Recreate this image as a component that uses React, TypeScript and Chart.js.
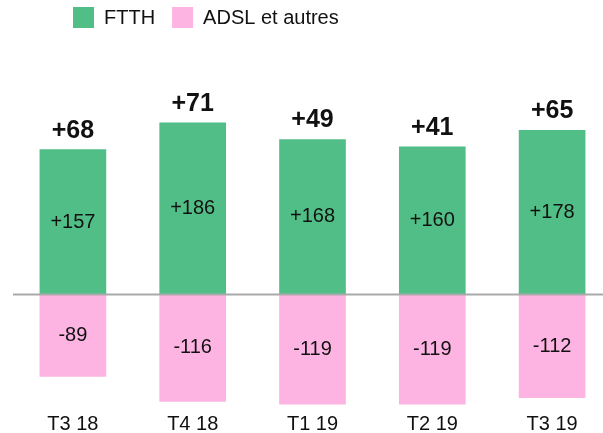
import React, { useEffect, useRef } from "react";
import { Chart, registerables } from "chart.js";
Chart.register(...registerables);

const categories = ["T3 18", "T4 18", "T1 19", "T2 19", "T3 19"];
const ftth = [157, 186, 168, 160, 178];
const adsl = [-89, -116, -119, -119, -112];
const totals = [68, 71, 49, 41, 65];
const seriesNames = ["FTTH", "ADSL et autres"];

const FONT = '"Liberation Sans", Arial, Helvetica, sans-serif';
const GREEN = "#52BE87";
const PINK = "#FEB4E2";
const TEXT = "#111111";

const fmt = (v: number) => (v > 0 ? "+" : "") + v;

const legendPlugin = {
  id: "customLegend",
  afterDraw(chart: any) {
    const ctx = chart.ctx;
    ctx.save();
    ctx.font = `20px ${FONT}`;
    ctx.textBaseline = "middle";
    ctx.textAlign = "left";
    let x = 73;
    const y = 7;
    const box = 21;
    chart.data.datasets.forEach((ds: any) => {
      ctx.fillStyle = ds.backgroundColor;
      ctx.fillRect(x, y, box, box);
      ctx.fillStyle = TEXT;
      ctx.fillText(ds.label, x + box + 10, y + box / 2 + 1);
      x += box + 10 + ctx.measureText(ds.label).width + 17;
    });
    ctx.restore();
  },
};

const labelPlugin = {
  id: "barLabels",
  afterDatasetsDraw(chart: any) {
    const ctx = chart.ctx;
    const { left, right } = chart.chartArea;
    const y0 = chart.scales.y.getPixelForValue(0);
    ctx.save();
    ctx.strokeStyle = "#A9A9A9";
    ctx.lineWidth = 2;
    ctx.beginPath();
    ctx.moveTo(left, y0);
    ctx.lineTo(right, y0);
    ctx.stroke();

    ctx.textAlign = "center";
    ctx.textBaseline = "middle";
    ctx.fillStyle = TEXT;
    ctx.font = `20px ${FONT}`;
    chart.data.datasets.forEach((ds: any, di: number) => {
      const meta = chart.getDatasetMeta(di);
      meta.data.forEach((bar: any, i: number) => {
        const { x, y, base } = bar.getProps(["x", "y", "base"], true);
        ctx.fillText(fmt(ds.data[i]), x, (y + base) / 2);
      });
    });
    const meta0 = chart.getDatasetMeta(0);
    ctx.font = `bold 25px ${FONT}`;
    meta0.data.forEach((bar: any, i: number) => {
      ctx.fillText(fmt(totals[i]), bar.x, bar.y - 19);
    });
    ctx.restore();
  },
};

export default function App() {
  const ref = useRef<HTMLCanvasElement | null>(null);
  useEffect(() => {
    if (!ref.current) return;
    const chart = new Chart(ref.current, {
      type: "bar",
      data: {
        labels: categories,
        datasets: [
          { label: seriesNames[0], data: ftth, backgroundColor: GREEN, barThickness: 66 },
          { label: seriesNames[1], data: adsl, backgroundColor: PINK, barThickness: 66 },
        ],
      },
      options: {
        responsive: false,
        animation: false,
        devicePixelRatio: 1,
        layout: { padding: { left: 13, right: 0, top: 110, bottom: -4 } },
        plugins: { legend: { display: false }, tooltip: { enabled: false } },
        scales: {
          x: {
            stacked: true,
            grid: { display: false, drawTicks: false },
            border: { display: false },
            ticks: { color: TEXT, font: { family: FONT, size: 20, lineHeight: 1 }, padding: 3 },
          },
          y: {
            stacked: true,
            display: false,
            min: -126.5,
            max: 200,
          },
        },
      },
      plugins: [legendPlugin, labelPlugin],
    });
    return () => chart.destroy();
  }, []);
  return (
    <div style={{ position: "fixed", left: 0, top: 0, width: 612, height: 433, background: "#fff" }}>
      <canvas ref={ref} width={612} height={433} style={{ display: "block" }} />
    </div>
  );
}
